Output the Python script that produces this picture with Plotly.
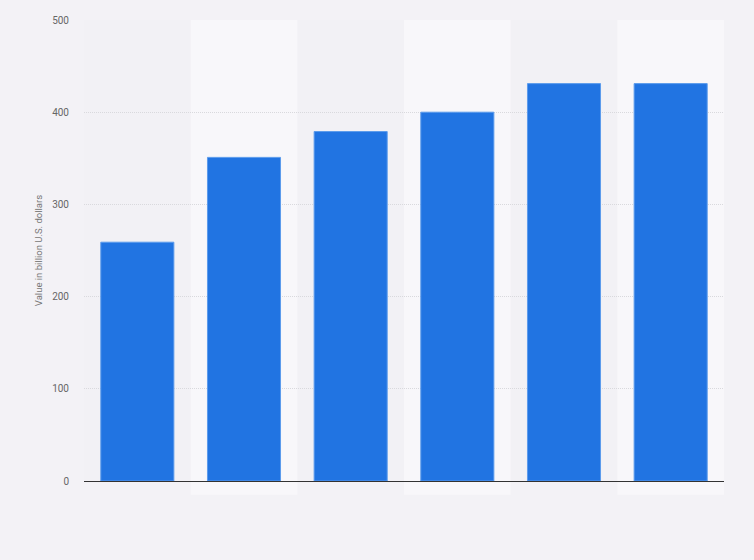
import plotly.graph_objects as go

categories = ["1", "2", "3", "4", "5", "6"]
values = [259, 351, 379, 400, 431, 431]
y_ticks = [0, 100, 200, 300, 400, 500]

fig = go.Figure()

# alternating column bands
for i, cat in enumerate(categories):
    if i % 2 == 1:
        fig.add_shape(type="rect", xref="x", yref="paper",
                      x0=i - 0.5, x1=i + 0.5, y0=-0.03, y1=1,
                      fillcolor="#f8f7fa", line_width=0, layer="below")

fig.add_trace(go.Bar(
    x=list(range(len(categories))), y=values,
    marker_color="#2174e2",
    marker_line=dict(color="#5c9bec", width=1),
    width=0.685,
    hoverinfo="y",
))

fig.update_xaxes(
    range=[-0.5, len(categories) - 0.5],
    showticklabels=False, showgrid=False, zeroline=False,
    showline=False,
)
fig.update_yaxes(
    range=[0, 500], tickvals=y_ticks,
    showgrid=True, gridcolor="#d9d9dd", griddash="1px,1px", gridwidth=1,
    zeroline=True, zerolinecolor="#333333", zerolinewidth=1.3,
    tickfont=dict(size=10, color="#666666"),
    ticklabelstandoff=14,
    title=dict(text="Value in billion U.S. dollars",
               font=dict(size=9.5, color="#777777"), standoff=7),
)

fig.update_layout(
    width=754, height=560,
    margin=dict(l=84, r=30, t=20, b=79),
    paper_bgcolor="#f3f2f6", plot_bgcolor="#f2f1f5",
    font=dict(family="Roboto, Arial, sans-serif"),
    bargap=0.3, showlegend=False,
)

# drop the page margin so the figure sits flush in the window
fig.write_html("out.html", config={"displayModeBar": False},
               post_script="document.body.style.margin='0';")
